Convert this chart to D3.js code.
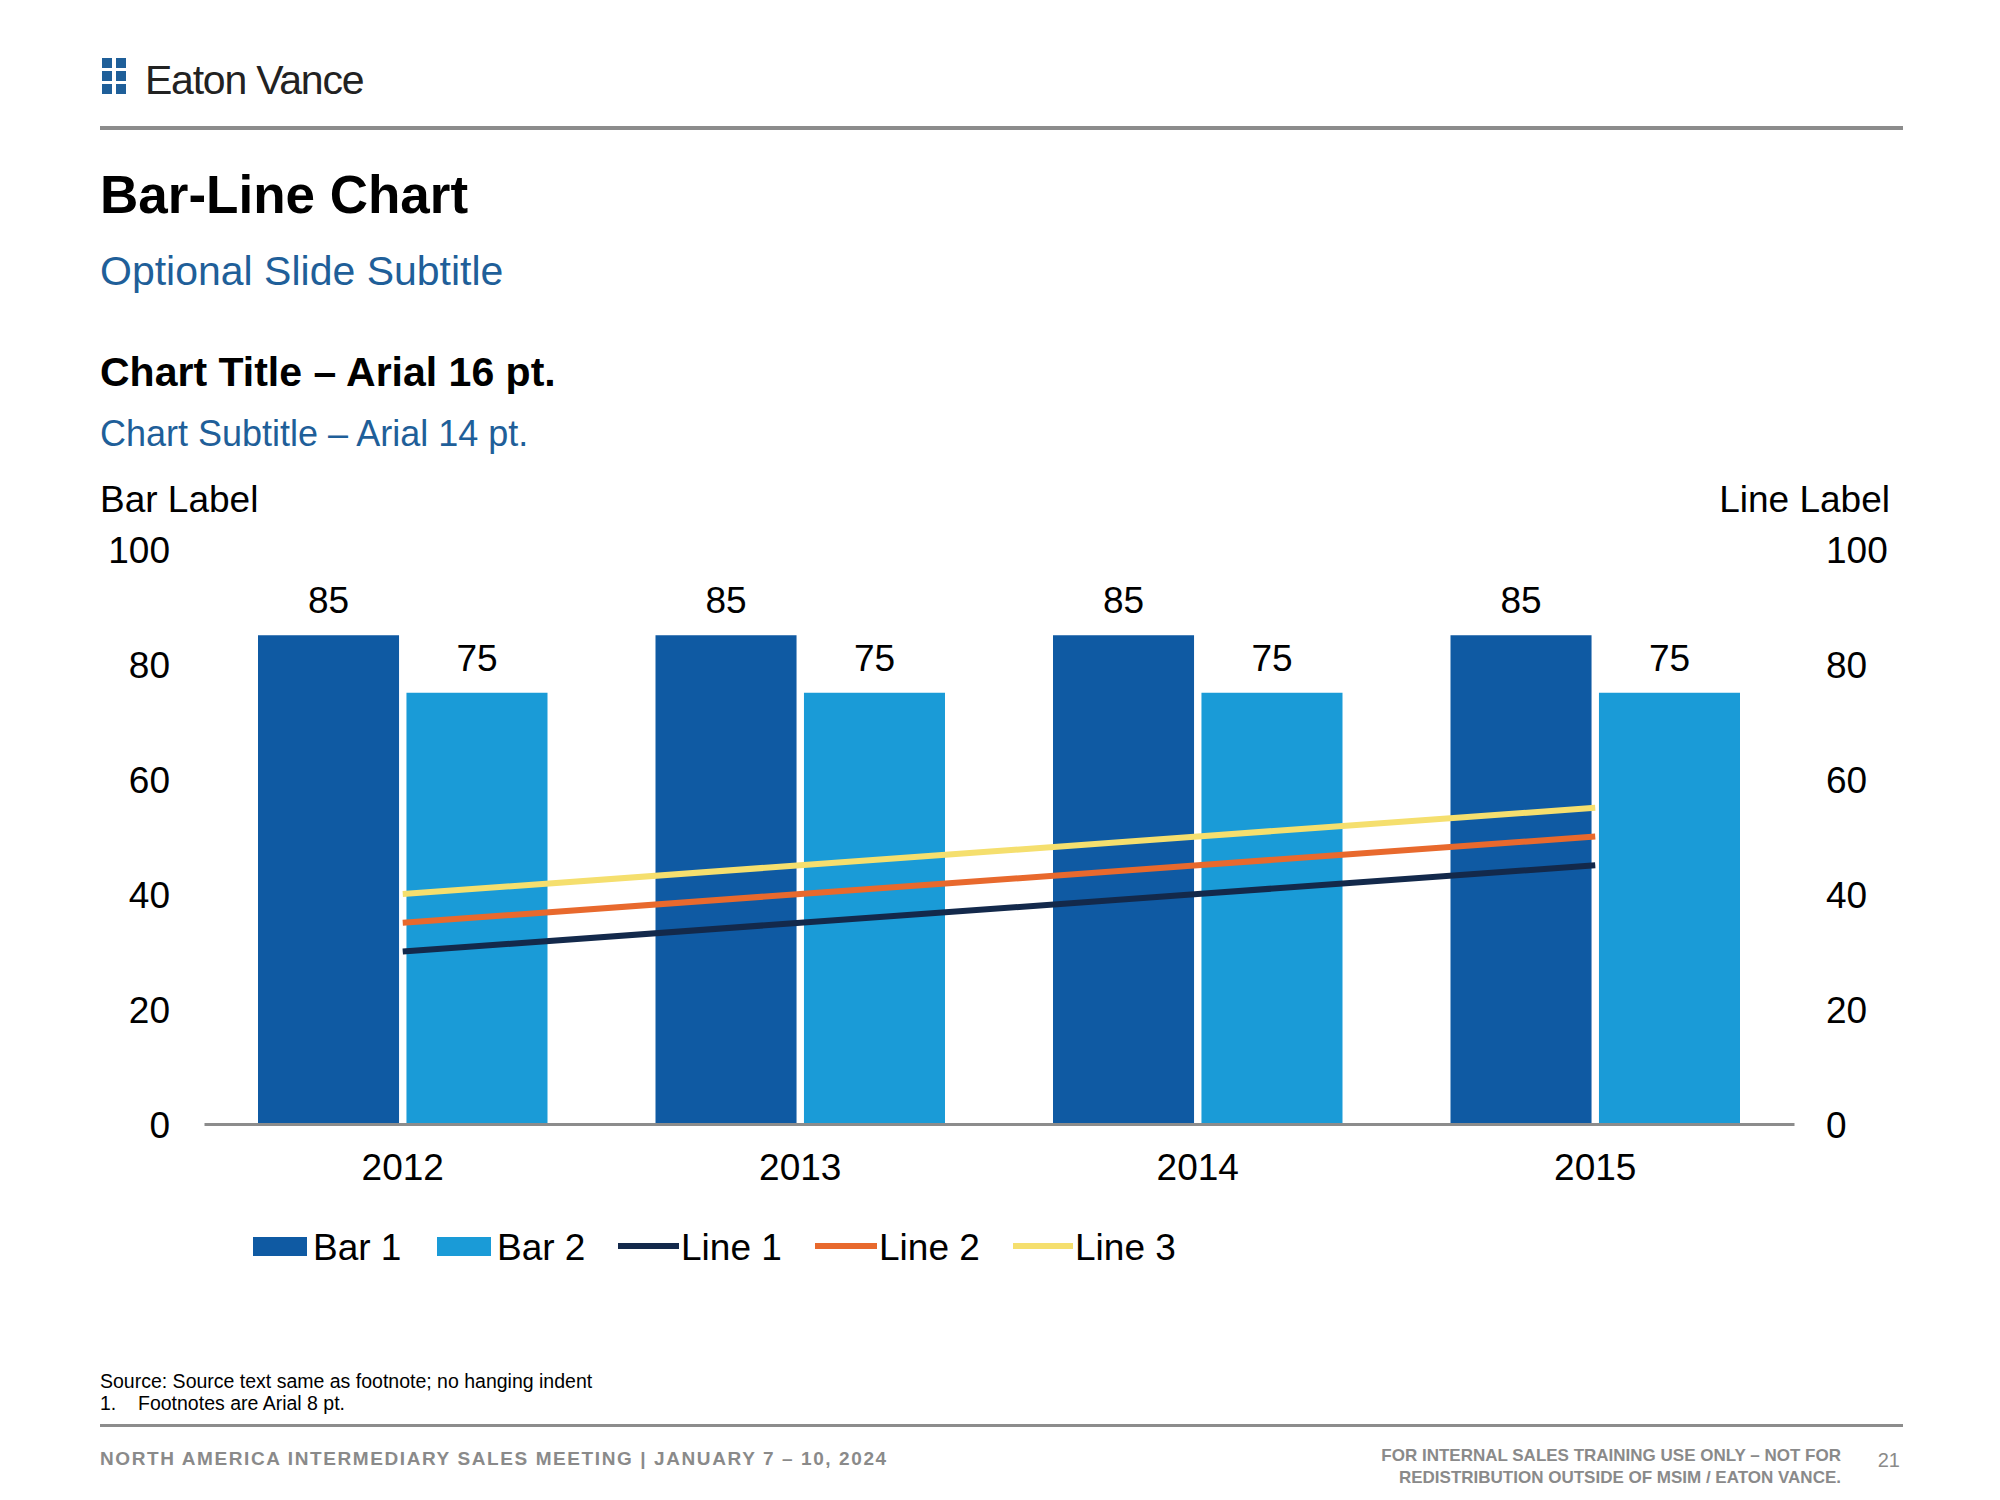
<!DOCTYPE html>
<html><head><meta charset="utf-8">
<script src="https://cdn.jsdelivr.net/npm/d3@7"></script>
<style>body{margin:0;background:#fff}svg{display:block;font-family:"Liberation Sans",Arial,sans-serif}</style>
</head><body><svg id="c" width="2000" height="1500"></svg>
<script>
const categories = ["2012","2013","2014","2015"];
const bar1 = [85,85,85,85];
const bar2 = [75,75,75,75];
const line1 = [30,35,40,45];
const line2 = [35,40,45,50];
const line3 = [40,45,50,55];
const yTicks = [0,20,40,60,80,100];
const legendLabels = ["Bar 1","Bar 2","Line 1","Line 2","Line 3"];
const colors = {bar1:"#0f5aa3",bar2:"#1a9bd7",line1:"#13294b",line2:"#e8692d",line3:"#f5df6e"};

const svg = d3.select("#c");
const blue = "#1f5f99";
// header
const logo = svg.append("g");
[[0,0],[14,0],[0,13],[14,13],[0,26],[14,26]].forEach(([dx,dy])=>logo.append("rect").attr("x",102+dx).attr("y",58+dy).attr("width",10).attr("height",10).attr("fill","#1f5f99"));
svg.append("text").attr("x",145).attr("y",94).attr("font-size",41).attr("fill","#222").attr("letter-spacing",-1.5).attr("textLength",218).text("Eaton Vance");
svg.append("rect").attr("x",100).attr("y",126).attr("width",1803).attr("height",4).attr("fill","#8c8c8c");
svg.append("text").attr("x",100).attr("y",213).attr("font-size",53).attr("font-weight","bold").text("Bar-Line Chart");
svg.append("text").attr("x",100).attr("y",285).attr("font-size",41).attr("fill",blue).text("Optional Slide Subtitle");
svg.append("text").attr("x",100).attr("y",386).attr("font-size",41).attr("font-weight","bold").text("Chart Title – Arial 16 pt.");
svg.append("text").attr("x",100).attr("y",446).attr("font-size",36).attr("fill",blue).text("Chart Subtitle – Arial 14 pt.");
svg.append("text").attr("x",100).attr("y",512).attr("font-size",37).text("Bar Label");
svg.append("text").attr("x",1890).attr("y",512).attr("font-size",37).attr("text-anchor","end").text("Line Label");

// scales
const x = d3.scaleBand().domain(categories).range([204,1794]);
const y = d3.scaleLinear().domain([0,100]).range([1124,549]);
const inner = d3.scaleBand().domain(["b1","b2"]).range([54,x.bandwidth()-54]).paddingInner(0.05);

const yl = svg.append("g").attr("transform","translate(170,0)").call(d3.axisLeft(y).tickValues(yTicks).tickSize(0).tickPadding(0));
const yr = svg.append("g").attr("transform","translate(1826,0)").call(d3.axisRight(y).tickValues(yTicks).tickSize(0).tickPadding(0));
[yl,yr].forEach(g=>{g.select(".domain").remove();g.selectAll("text").attr("font-size",37).attr("fill","#000").attr("font-family","Liberation Sans, Arial").attr("dy","0.36em");});

const gb = svg.append("g");
categories.forEach((c,i)=>{
  [["b1",bar1[i],colors.bar1],["b2",bar2[i],colors.bar2]].forEach(([k,v,col])=>{
    const bx = x(c)+inner(k);
    gb.append("rect").attr("x",bx).attr("y",y(v)).attr("width",inner.bandwidth()).attr("height",y(0)-y(v)).attr("fill",col);
    gb.append("text").attr("x",bx+inner.bandwidth()/2).attr("y",y(v)-22).attr("text-anchor","middle").attr("font-size",37).text(v);
  });
});
const xa = svg.append("g").attr("transform","translate(0,1124)").call(d3.axisBottom(x).tickSize(0).tickPadding(28));
xa.select(".domain").attr("stroke","#8c8c8c").attr("stroke-width",3);
xa.selectAll("text").attr("font-size",37).attr("fill","#000").attr("font-family","Liberation Sans, Arial").attr("dy","0.75em");

const lg = d3.line().x((d,i)=>x(categories[i])+x.bandwidth()/2).y(d=>y(d));
[[line1,colors.line1],[line2,colors.line2],[line3,colors.line3]].forEach(([d,c])=>
  svg.append("path").attr("d",lg(d)).attr("fill","none").attr("stroke",c).attr("stroke-width",6));

// legend
const lx = [[253,313,"rect",colors.bar1],[437,497,"rect",colors.bar2],[618,681,"line",colors.line1],[815,879,"line",colors.line2],[1013,1075,"line",colors.line3]];
lx.forEach(([sx,tx,t,c],i)=>{
  if(t==="rect") svg.append("rect").attr("x",sx).attr("y",1237).attr("width",tx-sx-6).attr("height",19).attr("fill",c);
  else svg.append("rect").attr("x",sx).attr("y",1243).attr("width",tx-sx-2).attr("height",6).attr("fill",c);
  svg.append("text").attr("x",tx).attr("y",1260).attr("font-size",37).text(legendLabels[i]);
});

// footnotes
svg.append("text").attr("x",100).attr("y",1388).attr("font-size",19.5).text("Source: Source text same as footnote; no hanging indent");
svg.append("text").attr("x",100).attr("y",1410).attr("font-size",19.5).text("1.");
svg.append("text").attr("x",138).attr("y",1410).attr("font-size",19.5).text("Footnotes are Arial 8 pt.");
svg.append("rect").attr("x",100).attr("y",1424).attr("width",1803).attr("height",3).attr("fill","#8c8c8c");
svg.append("text").attr("x",100).attr("y",1465).attr("font-size",19).attr("font-weight","bold").attr("fill","#8a8a8a").attr("letter-spacing",1.6).text("NORTH AMERICA INTERMEDIARY SALES MEETING | JANUARY 7 – 10, 2024");
svg.append("text").attr("x",1841).attr("y",1461).attr("font-size",17).attr("font-weight","bold").attr("fill","#8a8a8a").attr("text-anchor","end").text("FOR INTERNAL SALES TRAINING USE ONLY – NOT FOR");
svg.append("text").attr("x",1841).attr("y",1483).attr("font-size",17).attr("font-weight","bold").attr("fill","#8a8a8a").attr("text-anchor","end").text("REDISTRIBUTION OUTSIDE OF MSIM / EATON VANCE.");
svg.append("text").attr("x",1900).attr("y",1467).attr("font-size",20).attr("fill","#8a8a8a").attr("text-anchor","end").text("21");
</script></body></html>
